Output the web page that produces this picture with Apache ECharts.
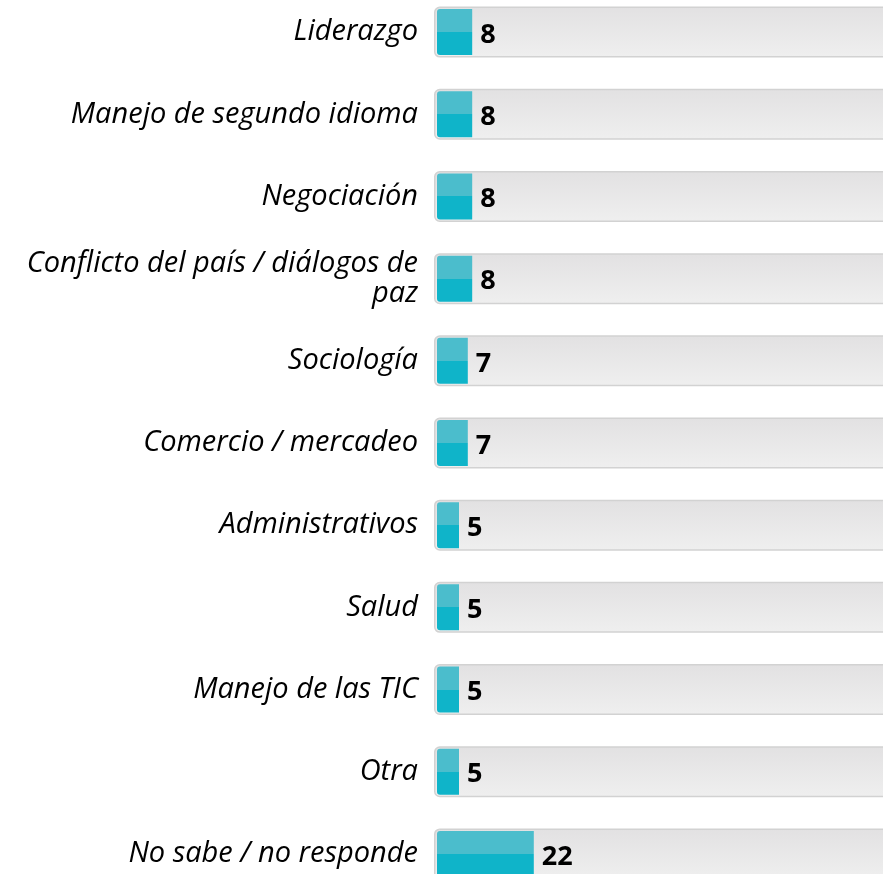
<!DOCTYPE html>
<html>
<head>
<meta charset="utf-8">
<script src="https://cdn.jsdelivr.net/npm/echarts@6/dist/echarts.min.js"></script>
<style>
  html, body { margin: 0; padding: 0; background: #fff; }
  #chart { width: 883px; height: 874px; }
</style>
</head>
<body>
<div id="chart"></div>
<script>
  // categorias y valores
  const categories = [
    'Liderazgo',
    'Manejo de segundo idioma',
    'Negociación',
    'Conflicto del país / diálogos de\npaz',
    'Sociología',
    'Comercio / mercadeo',
    'Administrativos',
    'Salud',
    'Manejo de las TIC',
    'Otra',
    'No sabe / no responde'
  ]
  const values = [8, 8, 8, 8, 7, 7, 5, 5, 5, 5, 22]
  const trackValues = categories.map(() => 1)

  const chart = echarts.init(document.getElementById('chart'))

  const gridTop = -9
  const gridBottom = -21

  // barra bicolor: mitad superior mas clara
  const barColor = {
    type: 'linear', x: 0, y: 0, x2: 0, y2: 1,
    colorStops: [
      { offset: 0, color: '#4bbdcc' },
      { offset: 0.5, color: '#4bbdcc' },
      { offset: 0.5, color: '#0fb4c9' },
      { offset: 1, color: '#0fb4c9' }
    ]
  }

  const option = {
    animation: false,
    grid: [
      { left: 434, right: -20, top: gridTop, bottom: gridBottom, outerBoundsMode: 'none' },
      { left: 437, width: 440, top: gridTop, bottom: gridBottom, outerBoundsMode: 'none' }
    ],
    xAxis: [
      { gridIndex: 0, type: 'value', min: 0, max: 1, show: false },
      { gridIndex: 1, type: 'value', min: 0, max: 100, show: false }
    ],
    yAxis: [
      { gridIndex: 0, type: 'category', data: categories, inverse: true, show: false },
      {
        gridIndex: 1,
        type: 'category',
        data: categories,
        inverse: true,
        axisLine: { show: false },
        axisTick: { show: false },
        axisLabel: {
          margin: 19,
          fontFamily: 'Open Sans',
          fontStyle: 'italic',
          fontSize: 29,
          lineHeight: 30,
          color: '#000',
          align: 'right',
          padding: [4, 0, 0, 0]
        }
      }
    ],
    series: [
      {
        // pista gris de fondo
        type: 'bar',
        xAxisIndex: 0,
        yAxisIndex: 0,
        data: trackValues,
        barWidth: 51,
        silent: true,
        itemStyle: {
          color: {
            type: 'linear', x: 0, y: 0, x2: 0, y2: 1,
            colorStops: [
              { offset: 0, color: '#e2e1e2' },
              { offset: 1, color: '#efefef' }
            ]
          },
          borderColor: '#d2d2d2',
          borderWidth: 1.5,
          borderRadius: 5
        }
      },
      {
        type: 'bar',
        xAxisIndex: 1,
        yAxisIndex: 1,
        data: values,
        barWidth: 46,
        itemStyle: {
          color: barColor,
          borderRadius: [3, 0, 0, 3]
        },
        label: {
          show: true,
          position: 'right',
          distance: 8,
          color: '#000',
          fontFamily: 'Open Sans',
          fontWeight: 'bold',
          fontSize: 27,
          offset: [0, 3]
        }
      }
    ]
  }

  chart.setOption(option)
</script>
</body>
</html>
